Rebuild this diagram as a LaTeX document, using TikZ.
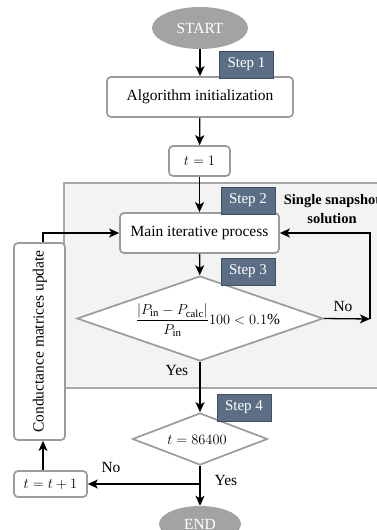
\documentclass[tikz,border=0pt]{standalone}
\usepackage{amsmath}
\usepackage{fontspec}
\setmainfont{Liberation Serif}
\usetikzlibrary{shapes.geometric,arrows.meta}
\definecolor{stepfill}{HTML}{5B6E85}
\definecolor{stepdraw}{HTML}{3E4F63}
\definecolor{termfill}{HTML}{A3A3A3}
\definecolor{boxdraw}{HTML}{9B9B9B}
\definecolor{regfill}{HTML}{F3F3F3}
\definecolor{regdraw}{HTML}{A8A8A8}
\newcommand{\bodyfont}{\fontsize{15.5}{18}\selectfont}
\newcommand{\stepfont}{\fontsize{15}{18}\selectfont}
\newcommand{\boldfont}{\fontsize{14.5}{19}\selectfont\bfseries}
\begin{document}
\begin{tikzpicture}[x=1pt,y=-1pt,
  box/.style={draw=boxdraw, line width=1.7pt, rounded corners=4pt, fill=white, inner sep=0pt, font=\bodyfont},
  stepbox/.style={draw=stepdraw, line width=0.8pt, fill=stepfill, text=white, inner sep=0pt, font=\stepfont, minimum width=54pt, minimum height=27pt},
  term/.style={ellipse, fill=termfill, text=white, inner sep=0pt, font=\bodyfont},
  dec/.style={diamond, draw=boxdraw, line width=1.7pt, fill=white, inner sep=0pt},
  arr/.style={draw=black, line width=1.3pt, -{Stealth[length=10pt, width=9pt, inset=2.5pt]}},
  lbl/.style={font=\bodyfont, inner sep=0pt}
]
\useasboundingbox (0,0) rectangle (376,530);
% region
\node[draw=regdraw, line width=1.2pt, fill=regfill, minimum width=340pt, minimum height=205pt, inner sep=0pt] (region) at (234,285.5) {};
\node[font=\boldfont, align=center] (snap) at (332,209) {Single snapshot\\solution};
% nodes
\node[term, minimum width=96pt, minimum height=42pt] (start) at (200,28) {START};
\node[box, minimum width=186pt, minimum height=40pt] (alg) at (200,97) {Algorithm initialization};
\node[stepbox] (s1) at (246.5,64.5) {Step 1};
\node[box, minimum width=61pt, minimum height=30pt] (t1) at (199.5,161) {$t=1$};
\node[box, minimum width=159pt, minimum height=40pt] (main) at (199.5,233) {Main iterative process};
\node[stepbox] (s2) at (248,200.5) {Step 2};
\node[dec, minimum width=246pt, minimum height=85pt] (d1) at (200,318.5) {};
\node[font=\bodyfont, inner sep=0pt] (f1) at (208,320) {$\dfrac{|P_{\mathrm{in}}-P_{\mathrm{calc}}|}{P_{\mathrm{in}}}100<0.1\%$};
\node[stepbox] (s3) at (248,271.5) {Step 3};
\node[dec, minimum width=135pt, minimum height=52pt] (d2) at (200,439) {};
\node[font=\bodyfont, inner sep=0pt] (f2) at (197,440) {$t=86400$};
\node[stepbox] (s4) at (244,407.5) {Step 4};
\node[box, minimum width=73pt, minimum height=26pt] (tt1) at (50.5,484) {$t=t+1$};
\node[box, minimum width=51pt, minimum height=197pt] (cond) at (39.5,341.5) {};
\node[font=\bodyfont, rotate=90, inner sep=0pt] (condtxt) at (40,341.5) {Conductance matrices update};
\node[term, minimum width=82pt, minimum height=36pt] (end) at (200,524) {END};
% connectors
\coordinate (c1) at (370,319);
\coordinate (c2) at (200,484);
\coordinate (c3) at (43,0);
\draw[arr] (start) -- (alg);
\draw[arr] (alg) -- (t1);
\draw[arr] (t1) -- (main);
\draw[arr] (main) -- (d1);
\draw[arr] (d1.east) -- (c1);
\draw[arr] (c1) |- (main.east);
\node[lbl] (no1) at (343,306) {No};
\draw[arr] (d1.south) -- (d2.north);
\node[lbl] (yes1) at (177,370) {Yes};
\draw[arr] (d2.south) -- (end.north);
\draw[arr] (c2) -- (tt1.east);
\node[lbl] (no2) at (111,467) {No};
\node[lbl] (yes2) at (226,480) {Yes};
\draw[arr] (tt1.north -| c3) -- (cond.south -| c3);
\draw[arr] (cond.north -| c3) |- (main.west);
\end{tikzpicture}
\end{document}
